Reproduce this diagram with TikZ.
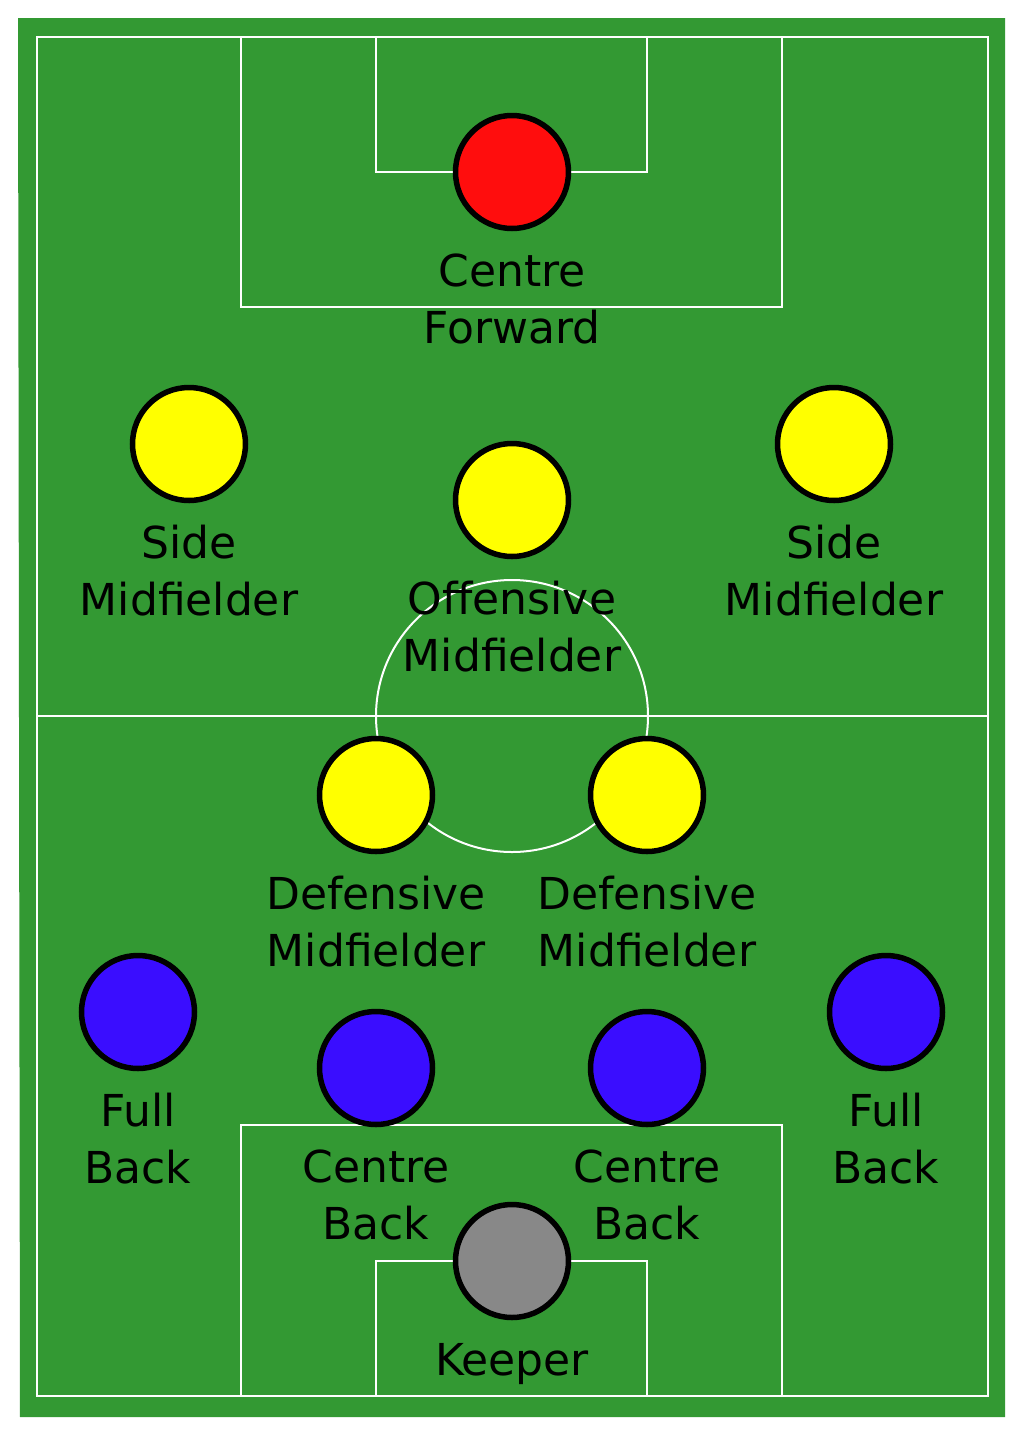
\documentclass[tikz,border=0pt]{standalone}
\usepackage{fontspec}
\setmainfont{DejaVu Sans}
\definecolor{pitch}{RGB}{51,153,51}
\definecolor{fwd}{RGB}{255,13,13}
\definecolor{mid}{RGB}{255,255,0}
\definecolor{def}{RGB}{58,13,255}
\definecolor{gk}{RGB}{136,136,136}
\begin{document}
\begin{tikzpicture}[x=1pt,y=-1pt,
  line/.style={draw=white,line width=2pt},
  player/.style={circle,draw=black,line width=5.5pt,minimum size=113pt,inner sep=0pt},
  lbl/.style={anchor=base,align=center,inner sep=0pt,font=\fontsize{44}{57}\selectfont}]
\useasboundingbox (0,0) rectangle (1024,1433);
\fill[white] (0,0) rectangle (1024,1433);
\fill[pitch] (18,18) -- (1005,18) -- (1005,1417) -- (20,1417) -- cycle;
% lines
\draw[line] (36.5,36.5) rectangle (987.5,1395.5);
\draw[line] (36.5,716) -- (987.5,716);
\draw[line] (512,716) circle (136);
\draw[line] (241,36.5) -- (241,307) -- (782,307) -- (782,36.5);
\draw[line] (376,36.5) -- (376,172) -- (647,172) -- (647,36.5);
\draw[line] (241,1395.5) -- (241,1125) -- (782,1125) -- (782,1395.5);
\draw[line] (376,1395.5) -- (376,1261) -- (647,1261) -- (647,1395.5);
% players
\node[player,fill=fwd] (cf) at (512,172) {};
\node[player,fill=mid] (sml) at (189,444) {};
\node[player,fill=mid] (om) at (512,500) {};
\node[player,fill=mid] (smr) at (834,444) {};
\node[player,fill=mid] (dml) at (376,795) {};
\node[player,fill=mid] (dmr) at (647,795) {};
\node[player,fill=def] (fbl) at (138,1012) {};
\node[player,fill=def] (cbl) at (376,1068) {};
\node[player,fill=def] (cbr) at (647,1068) {};
\node[player,fill=def] (fbr) at (886,1012) {};
\node[player,fill=gk] (gk) at (512,1261) {};
% labels (base = last line baseline)
\node[lbl] (tcf) at (512,343) {Centre\\Forward};
\node[lbl] (tsml) at (189,615) {Side\\Midfielder};
\node[lbl] (tom) at (512,671) {Offensive\\Midfielder};
\node[lbl] (tsmr) at (834,615) {Side\\Midfielder};
\node[lbl] (tdml) at (376,966) {Defensive\\Midfielder};
\node[lbl] (tdmr) at (647,966) {Defensive\\Midfielder};
\node[lbl] (tfbl) at (138,1183) {Full\\Back};
\node[lbl] (tcbl) at (376,1239) {Centre\\Back};
\node[lbl] (tcbr) at (647,1239) {Centre\\Back};
\node[lbl] (tfbr) at (886,1183) {Full\\Back};
\node[lbl] (tgk) at (512,1375) {Keeper};
\end{tikzpicture}
\end{document}
